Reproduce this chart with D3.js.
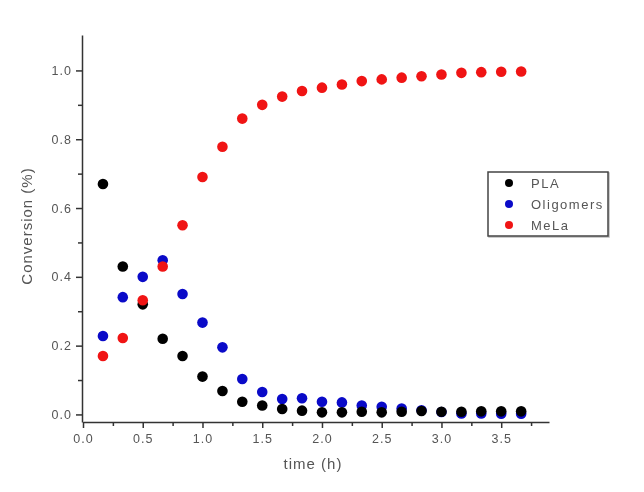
<!DOCTYPE html>
<html>
<head>
<meta charset="utf-8">
<script src="https://cdn.jsdelivr.net/npm/d3@7"></script>
<style>
    body { margin: 0; background: #fff; }
    svg { display: block; filter: blur(0.35px); }
    .axis path, .axis line { stroke: #333; stroke-width: 1.5; }
    .axis text { font-family: "Liberation Sans", Arial, sans-serif; font-size: 12.5px; fill: #555; letter-spacing: 1px; }
    .label { font-family: "Liberation Sans", Arial, sans-serif; font-size: 15px; fill: #555; letter-spacing: 1px; }
    .legend text { font-family: "Liberation Sans", Arial, sans-serif; font-size: 13px; fill: #555; letter-spacing: 1.5px; }
</style>
</head>
<body>
<svg id="chart"></svg>
<script>
// time points (h)
const time = [0.167, 0.333, 0.5, 0.667, 0.833, 1.0, 1.167, 1.333, 1.5, 1.667, 1.833,
              2.0, 2.167, 2.333, 2.5, 2.667, 2.833, 3.0, 3.167, 3.333, 3.5, 3.667];

// conversion values
const pla = [0.67, 0.43, 0.32, 0.22, 0.17, 0.11, 0.068, 0.037, 0.026, 0.016, 0.011,
             0.006, 0.006, 0.008, 0.006, 0.008, 0.01, 0.008, 0.008, 0.009, 0.009, 0.009];
const oligomers = [0.228, 0.341, 0.4, 0.448, 0.35, 0.267, 0.195, 0.103, 0.065, 0.045, 0.047,
                   0.037, 0.035, 0.026, 0.022, 0.017, 0.012, 0.007, 0.003, 0.003, 0.002, 0.002];
const mela = [0.17, 0.222, 0.332, 0.43, 0.55, 0.69, 0.778, 0.86, 0.9, 0.924, 0.94,
              0.95, 0.959, 0.969, 0.974, 0.979, 0.983, 0.988, 0.993, 0.995, 0.996, 0.997];

const seriesNames = ['PLA', 'Oligomers', 'MeLa'];
const seriesColors = ['#000000', '#0a0ac8', '#f01414'];

const xMajor = [0, 0.5, 1.0, 1.5, 2.0, 2.5, 3.0, 3.5];
const xMinor = [0.25, 0.75, 1.25, 1.75, 2.25, 2.75, 3.25, 3.75];
const yMajor = [0, 0.2, 0.4, 0.6, 0.8, 1.0];
const yMinor = [0.1, 0.3, 0.5, 0.7, 0.9];

const width = 644, height = 492;

const svg = d3.select('#chart')
    .attr('width', width)
    .attr('height', height);

const x = d3.scaleLinear().domain([0, 3.9]).range([83, 549]);
const y = d3.scaleLinear().domain([-0.022, 1.103]).range([422, 35]);

// minor ticks first, then major axes on top
svg.append('g')
    .attr('class', 'axis')
    .attr('transform', `translate(0,${y.range()[0]})`)
    .call(d3.axisBottom(x).tickValues(xMinor).tickSize(4).tickFormat(''))
    .select('.domain').remove();
svg.append('g')
    .attr('class', 'axis')
    .attr('transform', `translate(${x.range()[0] - 1},0)`)
    .call(d3.axisLeft(y).tickValues(yMinor).tickSize(4).tickFormat(''))
    .select('.domain').remove();

svg.append('g')
    .attr('class', 'axis x-axis')
    .attr('transform', `translate(0,${y.range()[0]})`)
    .call(d3.axisBottom(x).tickValues(xMajor).tickSize(6).tickSizeOuter(0).tickPadding(6)
        .tickFormat(d3.format('.1f')));

svg.append('g')
    .attr('class', 'axis y-axis')
    .attr('transform', `translate(${x.range()[0] - 1},0)`)
    .call(d3.axisLeft(y).tickValues(yMajor).tickSize(6).tickSizeOuter(0).tickPadding(4)
        .tickFormat(d3.format('.1f')));

// axis titles
svg.append('text')
    .attr('class', 'label')
    .attr('text-anchor', 'middle')
    .attr('x', 313)
    .attr('y', 469)
    .text('time (h)');

svg.append('text')
    .attr('class', 'label')
    .attr('text-anchor', 'middle')
    .attr('transform', 'translate(32,226) rotate(-90)')
    .text('Conversion (%)');

// points: oligomers under PLA, MeLa on top
const series = [
    { name: 'Oligomers', values: oligomers, color: seriesColors[1] },
    { name: 'PLA', values: pla, color: seriesColors[0] },
    { name: 'MeLa', values: mela, color: seriesColors[2] }
];

series.forEach(s => {
    svg.append('g')
        .selectAll('circle')
        .data(time.map((t, i) => ({ t: t, v: s.values[i] })))
        .join('circle')
        .attr('cx', d => x(d.t))
        .attr('cy', d => y(d.v))
        .attr('r', 5.3)
        .attr('fill', s.color);
});

// legend
const legendW = 120, legendH = 64;
const legend = svg.append('g')
    .attr('class', 'legend')
    .attr('transform', 'translate(488,172)');

legend.append('rect')
    .attr('x', 1).attr('y', 1)
    .attr('width', legendW).attr('height', legendH)
    .attr('fill', 'none')
    .attr('stroke', '#bbb')
    .attr('stroke-width', 1.5);
legend.append('rect')
    .attr('width', legendW).attr('height', legendH)
    .attr('fill', '#fff')
    .attr('stroke', '#444')
    .attr('stroke-width', 1.5);

const items = legend.selectAll('.item')
    .data(seriesNames)
    .join('g')
    .attr('class', 'item')
    .attr('transform', (d, i) => `translate(0,${11 + i * 21})`);

items.append('circle')
    .attr('cx', 21)
    .attr('cy', 0)
    .attr('r', 4)
    .attr('fill', (d, i) => seriesColors[i]);

items.append('text')
    .attr('x', 43)
    .attr('y', 0)
    .attr('dy', '0.35em')
    .text(d => d);
</script>
</body>
</html>
